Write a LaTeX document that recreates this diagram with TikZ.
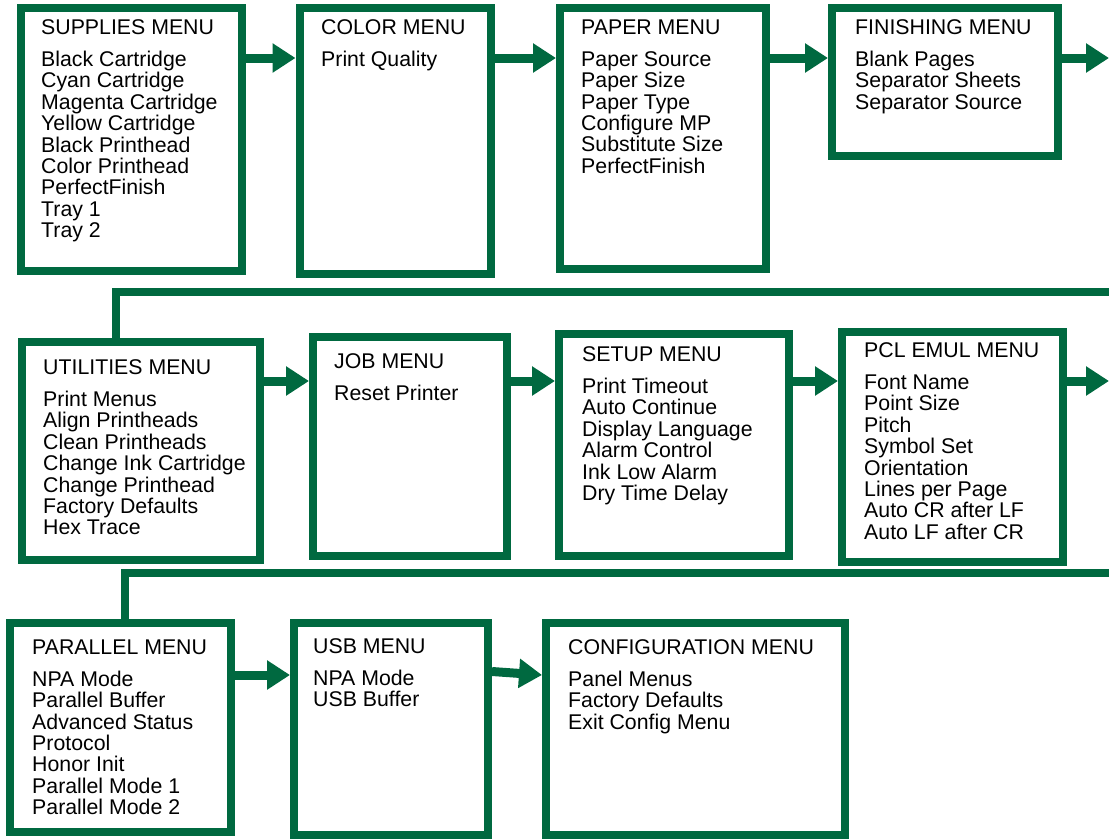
\documentclass[tikz,border=0pt]{standalone}
\usepackage{fontspec}
\setmainfont{Liberation Sans}
\usetikzlibrary{arrows.meta}
\definecolor{lgreen}{RGB}{0,105,64}
\begin{document}
\begin{tikzpicture}[x=1pt,y=-1pt,
  menubox/.style={draw=lgreen, line width=8pt, inner sep=0pt, outer sep=4pt},
  menutext/.style={anchor=north west, inner sep=0pt, align=left, font=\fontsize{21.3}{21.4}\selectfont},
  arr/.style={draw=lgreen, line width=9pt, -{Triangle[length=23pt,width=28pt]}},
  conn/.style={draw=lgreen, line width=8pt}]
\useasboundingbox (0,0) rectangle (1109,839);
% row 1 boxes
\node[menubox, minimum width=221pt, minimum height=263pt] (supplies) at (131.5,139.5) {};
\node[menubox, minimum width=191pt, minimum height=266pt] (color) at (395,141) {};
\node[menubox, minimum width=206pt, minimum height=261pt] (paper) at (663,138.5) {};
\node[menubox, minimum width=226pt, minimum height=148pt] (finishing) at (945,82) {};
% row 2 boxes
\node[menubox, minimum width=238.5pt, minimum height=218pt] (util) at (140.75,451) {};
\node[menubox, minimum width=194pt, minimum height=218.5pt] (job) at (410,446.25) {};
\node[menubox, minimum width=230pt, minimum height=222.5pt] (setup) at (674,444.75) {};
\node[menubox, minimum width=221pt, minimum height=230pt] (pcl) at (952.5,447) {};
% row 3 boxes
\node[menubox, minimum width=221pt, minimum height=209pt] (parallel) at (120.5,727.5) {};
\node[menubox, minimum width=194pt, minimum height=212pt] (usb) at (391,729) {};
\node[menubox, minimum width=299pt, minimum height=212pt] (config) at (695.5,729) {};
% texts
\node[menutext] (tsupplies) at (41,19.4) {SUPPLIES MENU\\[10.6pt]Black Cartridge\\Cyan Cartridge\\Magenta Cartridge\\Yellow Cartridge\\Black Printhead\\Color Printhead\\PerfectFinish\\Tray 1\\Tray 2};
\node[menutext] (tcolor) at (321,19.4) {COLOR MENU\\[10.6pt]Print Quality};
\node[menutext] (tpaper) at (581,19.4) {PAPER MENU\\[10.6pt]Paper Source\\Paper Size\\Paper Type\\Configure MP\\Substitute Size\\PerfectFinish};
\node[menutext] (tfinishing) at (855,19.4) {FINISHING MENU\\[10.6pt]Blank Pages\\Separator Sheets\\Separator Source};
\node[menutext] (tutil) at (43,359.4) {UTILITIES MENU\\[10.6pt]Print Menus\\Align Printheads\\Clean Printheads\\Change Ink Cartridge\\Change Printhead\\Factory Defaults\\Hex Trace};
\node[menutext] (tjob) at (334,353.4) {JOB MENU\\[10.6pt]Reset Printer};
\node[menutext] (tsetup) at (582,346.4) {SETUP MENU\\[10.6pt]Print Timeout\\Auto Continue\\Display Language\\Alarm Control\\Ink Low Alarm\\Dry Time Delay};
\node[menutext] (tpcl) at (864,342.4) {PCL EMUL MENU\\[10.6pt]Font Name\\Point Size\\Pitch\\Symbol Set\\Orientation\\Lines per Page\\Auto CR after LF\\Auto LF after CR};
\node[menutext] (tparallel) at (32,639.4) {PARALLEL MENU\\[10.6pt]NPA Mode\\Parallel Buffer\\Advanced Status\\Protocol\\Honor Init\\Parallel Mode 1\\Parallel Mode 2};
\node[menutext] (tusb) at (313,638.4) {USB MENU\\[10.6pt]NPA Mode\\USB Buffer};
\node[menutext] (tconfig) at (568,639.4) {CONFIGURATION MENU\\[10.6pt]Panel Menus\\Factory Defaults\\Exit Config Menu};
% helper coordinates
\coordinate (r1) at (0,58);
\coordinate (r2) at (0,381);
\coordinate (r3) at (0,675);
\coordinate (out1) at (1109,58);
\coordinate (out2) at (1109,381);
\coordinate (c1) at (1109,292);
\coordinate (c1b) at (116,292);
\coordinate (c2) at (1109,573);
\coordinate (c2b) at (124.5,573);
\coordinate (u1) at (0,671.5);
\coordinate (u2) at (0,675);
% row 1 arrows
\draw[arr] (supplies.east |- r1) -- (color.west |- r1);
\draw[arr] (color.east |- r1) -- (paper.west |- r1);
\draw[arr] (paper.east |- r1) -- (finishing.west |- r1);
\draw[arr] (finishing.east |- r1) -- (out1);
% connector to row 2
\draw[conn] (c1) -- (c1b) -- (c1b |- util.north);
% row 2 arrows
\draw[arr] (util.east |- r2) -- (job.west |- r2);
\draw[arr] (job.east |- r2) -- (setup.west |- r2);
\draw[arr] (setup.east |- r2) -- (pcl.west |- r2);
\draw[arr] (pcl.east |- r2) -- (out2);
% connector to row 3
\draw[conn] (c2) -- (c2b) -- (c2b |- parallel.north);
% row 3 arrows
\draw[arr] (parallel.east |- r3) -- (usb.west |- r3);
\draw[arr] (usb.east |- u1) -- (config.west |- u2);
\end{tikzpicture}
\end{document}
